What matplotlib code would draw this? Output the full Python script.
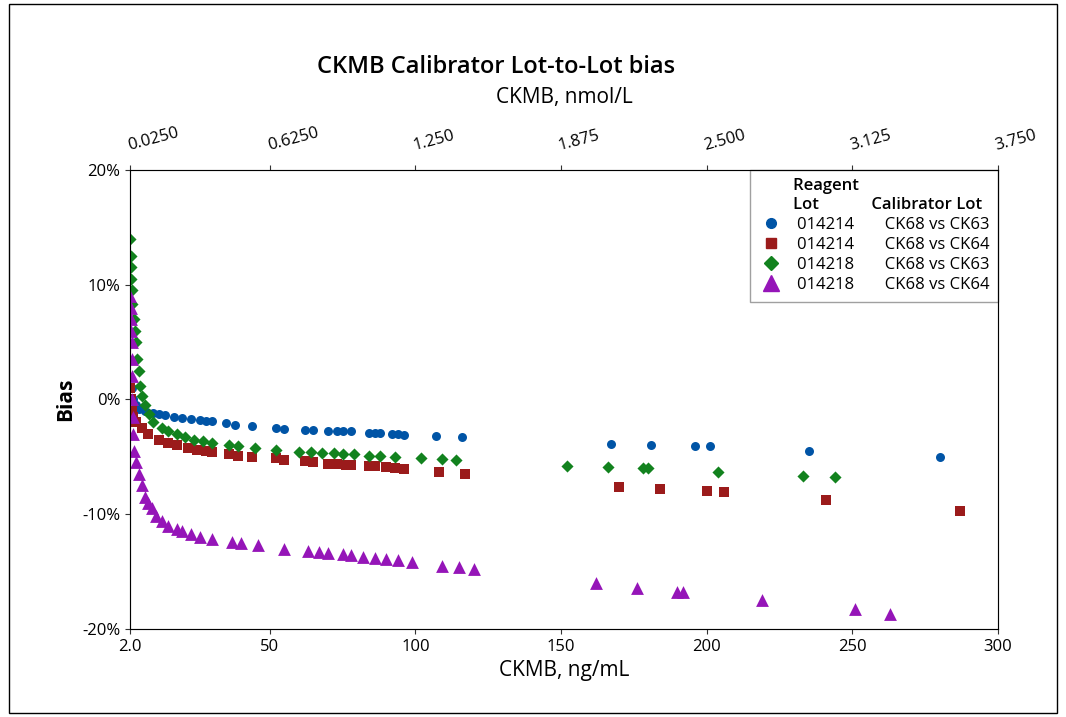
import matplotlib
matplotlib.use("Agg")
import matplotlib.pyplot as plt
from matplotlib.lines import Line2D

plt.rcParams['font.family'] = ['Open Sans', 'DejaVu Sans']

blue_x = [2.5,3,4,5,7,10,12,14,17,20,23,26,28,30,35,38,44,52,55,62,65,70,73,75,78,84,86,88,92,94,96,107,116,167,181,196,201,235,280]
blue_y = [1,0,-0.5,-0.8,-1.0,-1.2,-1.3,-1.4,-1.5,-1.6,-1.7,-1.8,-1.9,-1.9,-2.1,-2.2,-2.3,-2.5,-2.6,-2.7,-2.7,-2.8,-2.8,-2.8,-2.8,-2.9,-2.9,-2.9,-3.0,-3.0,-3.1,-3.2,-3.3,-3.9,-4.0,-4.1,-4.1,-4.5,-5.0]
red_x = [2.1,2.3,2.6,3,4,6,8,12,15,18,22,25,28,30,36,39,44,52,55,62,65,70,73,76,78,84,86,90,93,96,108,117,170,184,200,206,241,287]
red_y = [1,0,-1,-1.5,-2,-2.5,-3,-3.5,-3.8,-4.0,-4.2,-4.4,-4.5,-4.6,-4.8,-4.9,-5.0,-5.1,-5.3,-5.4,-5.5,-5.6,-5.6,-5.7,-5.7,-5.8,-5.8,-5.9,-6.0,-6.1,-6.3,-6.5,-7.6,-7.8,-8.0,-8.1,-8.8,-9.7]
green_x = [2.0,2.2,2.4,2.3,2.6,2.8,3.2,3.6,4.0,4.5,5,5.5,6.2,7,8.5,10,13,15,18,21,24,27,30,36,39,45,52,60,64,68,72,75,79,84,88,93,102,109,114,152,166,178,180,204,233,244]
green_y = [14,12.5,11.5,10.5,9.5,8.3,7,6,5,3.5,2.5,1.2,0.3,-0.5,-1.3,-2.0,-2.5,-2.8,-3.0,-3.3,-3.5,-3.6,-3.8,-4.0,-4.1,-4.2,-4.4,-4.6,-4.6,-4.7,-4.7,-4.8,-4.8,-4.9,-4.9,-5.0,-5.1,-5.2,-5.3,-5.8,-5.9,-6.0,-6.0,-6.3,-6.7,-6.8]
purple_x = [2.0,2.2,2.4,2.3,2.6,2.5,2.8,2.6,3.0,2.9,3.5,4.2,5,6,7,8,9.5,11,13,15,18,20,23,26,30,37,40,46,55,63,67,70,75,78,82,86,90,94,99,109,115,120,162,176,190,192,219,251,263]
purple_y = [9,8,7,6,5,3.5,2,0,-1.5,-3,-4.5,-5.5,-6.5,-7.5,-8.5,-9,-9.5,-10.2,-10.6,-11,-11.3,-11.5,-11.7,-12,-12.2,-12.4,-12.5,-12.7,-13.0,-13.2,-13.3,-13.4,-13.5,-13.6,-13.7,-13.8,-13.9,-14.0,-14.2,-14.5,-14.6,-14.8,-16.0,-16.4,-16.8,-16.8,-17.5,-18.3,-18.7]

reagent = ['014214', '014214', '014218', '014218']
calib = ['CK68 vs CK63', 'CK68 vs CK64', 'CK68 vs CK63', 'CK68 vs CK64']
colors = ['#0054a6', '#9b1b1b', '#12821e', '#9515b8']
markers = ['o', 's', 'D', '^']
sizes = [42, 42, 38, 85]

x_ticks = [2, 50, 100, 150, 200, 250, 300]
x_labels = ['2.0', '50', '100', '150', '200', '250', '300']
top_labels = ['0.0250', '0.6250', '1.250', '1.875', '2.500', '3.125', '3.750']
y_ticks = [-20, -10, 0, 10, 20]

fig = plt.figure(figsize=(10.66, 7.17), dpi=100)
ax = fig.add_axes([0.122, 0.123, 0.814, 0.64])
series = [(blue_x, blue_y), (red_x, red_y), (green_x, green_y), (purple_x, purple_y)]
for (xs, ys), c, m, s in zip(series, colors, markers, sizes):
    ax.scatter(xs, ys, color=c, marker=m, s=s, linewidths=0, zorder=3)

ax.set_xlim(2, 300)
ax.set_ylim(-20, 20)
ax.set_xticks(x_ticks)
ax.set_xticklabels(x_labels, fontsize=12)
ax.set_yticks(y_ticks)
ax.set_yticklabels([f'{v}%' for v in y_ticks], fontsize=12)
ax.set_xlabel('CKMB, ng/mL', fontsize=15)
ax.set_ylabel('Bias', fontsize=15, fontweight='bold')
ax.tick_params(colors='#333333', labelcolor='black')
for sp in ax.spines.values():
    sp.set_color('#888888')

ax2 = ax.twiny()
ax2.set_xlim(2, 300)
ax2.set_xticks(x_ticks)
ax2.set_xticklabels(top_labels, fontsize=12, rotation=15, ha='left', rotation_mode='anchor')
ax2.tick_params(colors='#333333', labelcolor='black', pad=8)
ax2.set_xlabel('CKMB, nmol/L', fontsize=15, labelpad=16)

fig.text(0.465, 0.906, 'CKMB Calibrator Lot-to-Lot bias', ha='center', va='center', fontsize=17, fontweight='semibold')

handles = [Line2D([], [], ls='', marker=m, color=c, markersize=7 if m != '^' else 11)
           for m, c in zip(markers, colors)]
labels = [f'{r}       {cl}' for r, cl in zip(reagent, calib)]
leg = ax.legend(handles, labels, loc='upper right', title='        Reagent\n        Lot            Calibrator Lot ',
                fontsize=12, title_fontsize=12, frameon=True, fancybox=False,
                edgecolor='#888888', handletextpad=0.8, borderaxespad=0, labelspacing=0.25,
                borderpad=0.5, handlelength=1.5)
leg._legend_box.align = 'left'
leg.get_title().set_fontweight('semibold')

fig.patches.append(plt.Rectangle((0.008, 0.005), 0.984, 0.99, transform=fig.transFigure,
                                 fill=False, edgecolor='black', lw=1))
fig.savefig('out.png', dpi=100)
